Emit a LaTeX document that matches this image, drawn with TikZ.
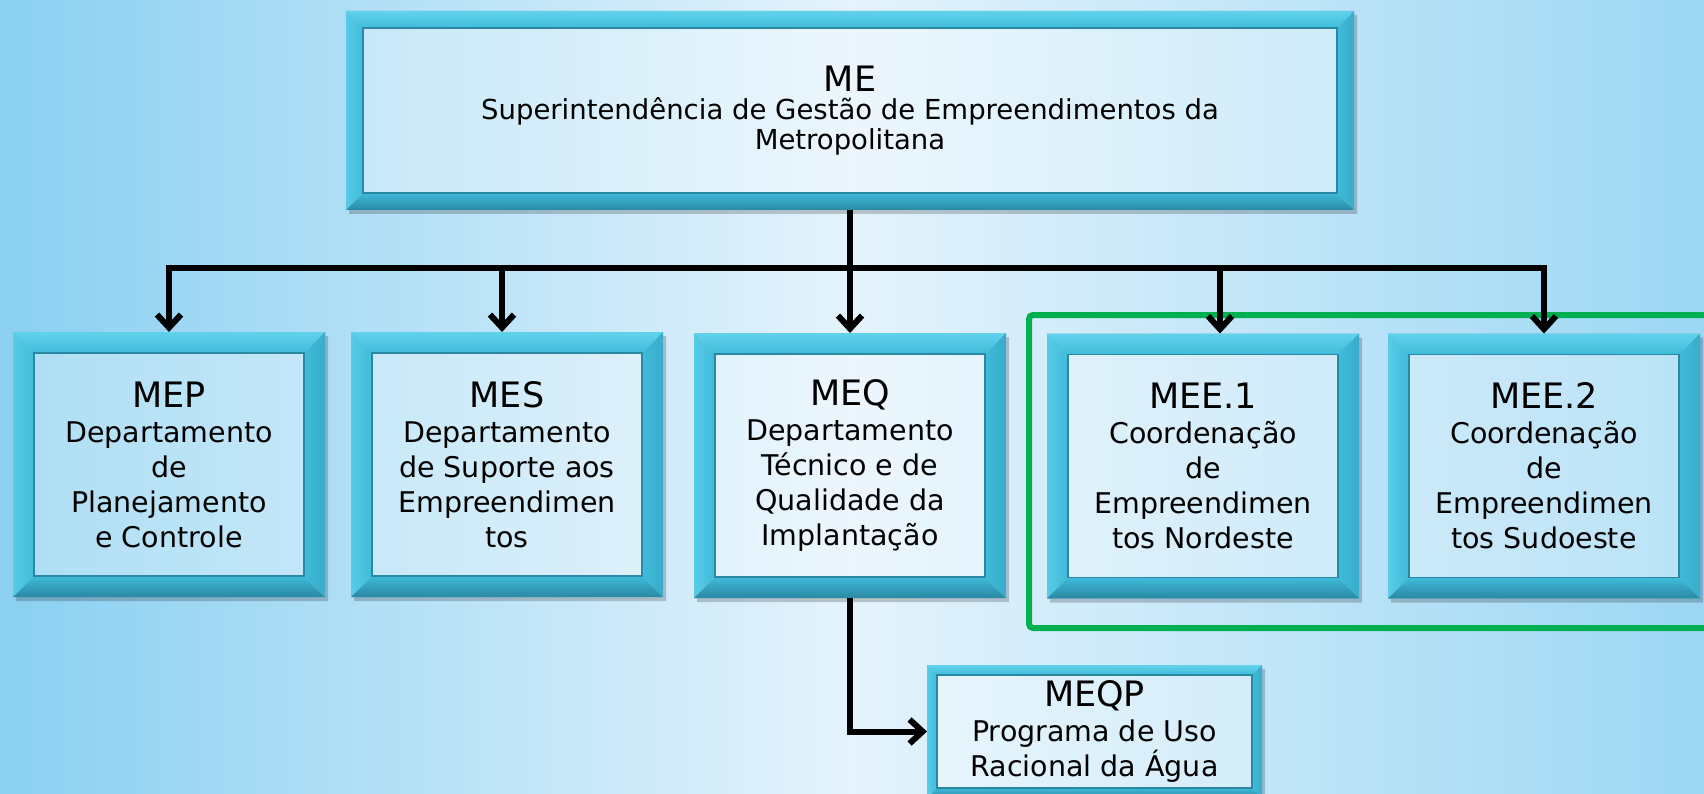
\documentclass[tikz,border=0pt]{standalone}
\usepackage{fontspec}
\setmainfont{DejaVu Sans}
\usetikzlibrary{arrows.meta}

\definecolor{bgside}{HTML}{8AD0F1}
\definecolor{bgmid}{HTML}{E4F3FC}
\definecolor{frlight}{HTML}{62D2EC}
\definecolor{frmid}{HTML}{3FBBDA}
\definecolor{frdark}{HTML}{2A88A3}
\definecolor{grpgreen}{HTML}{00B050}

\newcommand{\hd}{\fontsize{35}{38}\selectfont}

% bevelled frame round a box node: #1 node, #2 frame width
\newcommand{\bevelframe}[2]{%
  \fill[black,opacity=.2,even odd rule] ([xshift=3pt,yshift=-4pt]#1.south west) rectangle ([xshift=3pt,yshift=-4pt]#1.north east) (#1.south west) rectangle (#1.north east);
  \shade[top color=frlight,bottom color=frmid] (#1.north west) -- (#1.north east) -- ([xshift=-#2,yshift=-#2]#1.north east) -- ([xshift=#2,yshift=-#2]#1.north west) -- cycle;
  \shade[left color=frlight!70!frmid,right color=frmid] (#1.north west) -- ([xshift=#2,yshift=-#2]#1.north west) -- ([xshift=#2,yshift=#2]#1.south west) -- (#1.south west) -- cycle;
  \shade[left color=frmid,right color=frmid!70!frdark] (#1.north east) -- ([xshift=-#2,yshift=-#2]#1.north east) -- ([xshift=-#2,yshift=#2]#1.south east) -- (#1.south east) -- cycle;
  \shade[top color=frmid,bottom color=frdark] (#1.south west) -- ([xshift=#2,yshift=#2]#1.south west) -- ([xshift=-#2,yshift=#2]#1.south east) -- (#1.south east) -- cycle;
  \draw[frdark,line width=1.2pt] ([xshift=#2,yshift=-#2]#1.north west) rectangle ([xshift=-#2,yshift=#2]#1.south east);
}

\tikzset{
  unit/.style={inner sep=0pt, outer sep=0pt, minimum width=312pt, minimum height=265pt,
    fill=white, fill opacity=.3, text opacity=1, align=center,
    font=\fontsize{28.5}{35}\selectfont},
  conn/.style={line width=6pt, black},
  grp/.style={draw=grpgreen, line width=6pt, rounded corners=4pt}
}

\begin{document}
\begin{tikzpicture}[x=1pt,y=-1pt,>={Straight Barb[length=13pt,width=24pt]}]
    \useasboundingbox (0,0) rectangle (1704,794);
    \clip (0,0) rectangle (1704,794);
    \shade[left color=bgside,right color=bgside!80!bgmid,middle color=bgmid] (0,0) rectangle (1704,794);

    % boxes
    \node[unit, minimum width=1008pt, minimum height=199pt, font=\fontsize{27.5}{30}\selectfont] (me) at (850,110.5)
        {{\hd ME}\\[-2pt] Superintendência de Gestão de Empreendimentos da\\ Metropolitana};
    \node[unit] (mep) at (169,464.5) {{\hd MEP}\\ Departamento\\ de\\ Planejamento\\ e Controle};
    \node[unit] (mes) at (507,464.5) {{\hd MES}\\ Departamento\\ de Suporte aos\\ Empreendimen\\ tos};
    \node[unit] (meq) at (850,465.5) {{\hd MEQ}\\ Departamento\\ Técnico e de\\ Qualidade da\\ Implantação};
    \node[unit] (mee1) at (1203,466) {{\hd MEE.1}\\ Coordenação\\ de\\ Empreendimen\\ tos Nordeste};
    \node[unit] (mee2) at (1544,466) {{\hd MEE.2}\\ Coordenação\\ de\\ Empreendimen\\ tos Sudoeste};
    \node[unit, minimum width=335pt, minimum height=133pt] (meqp) at (1094.5,731.5)
        {{\hd MEQP}\\ Programa de Uso\\ Racional da Água};

    \bevelframe{me}{17pt}
    \foreach \n in {mep,mes,meq,mee1,mee2}
        \bevelframe{\n}{21pt};
    \bevelframe{meqp}{10pt}

    % group of the two coordinations
    \draw[grp] (1029,315) rectangle (1730,628);

    % connectors
    \coordinate (bus) at (850,268);
    \draw[conn,->] (me.south) -- (meq.north);
    \draw[conn,line cap=rect] (bus -| mep.north) -- (bus -| mee2.north);
    \draw[conn,->] (bus -| mep.north) -- (mep.north);
    \draw[conn,->] (bus -| 502,0) -- ([xshift=-5pt]mes.north);
    \draw[conn,->] (bus -| 1220,0) -- ([xshift=17pt]mee1.north);
    \draw[conn,->] (bus -| mee2.north) -- (mee2.north);
    \draw[conn,->] (meq.south) |- (meqp.west);
\end{tikzpicture}
\end{document}
